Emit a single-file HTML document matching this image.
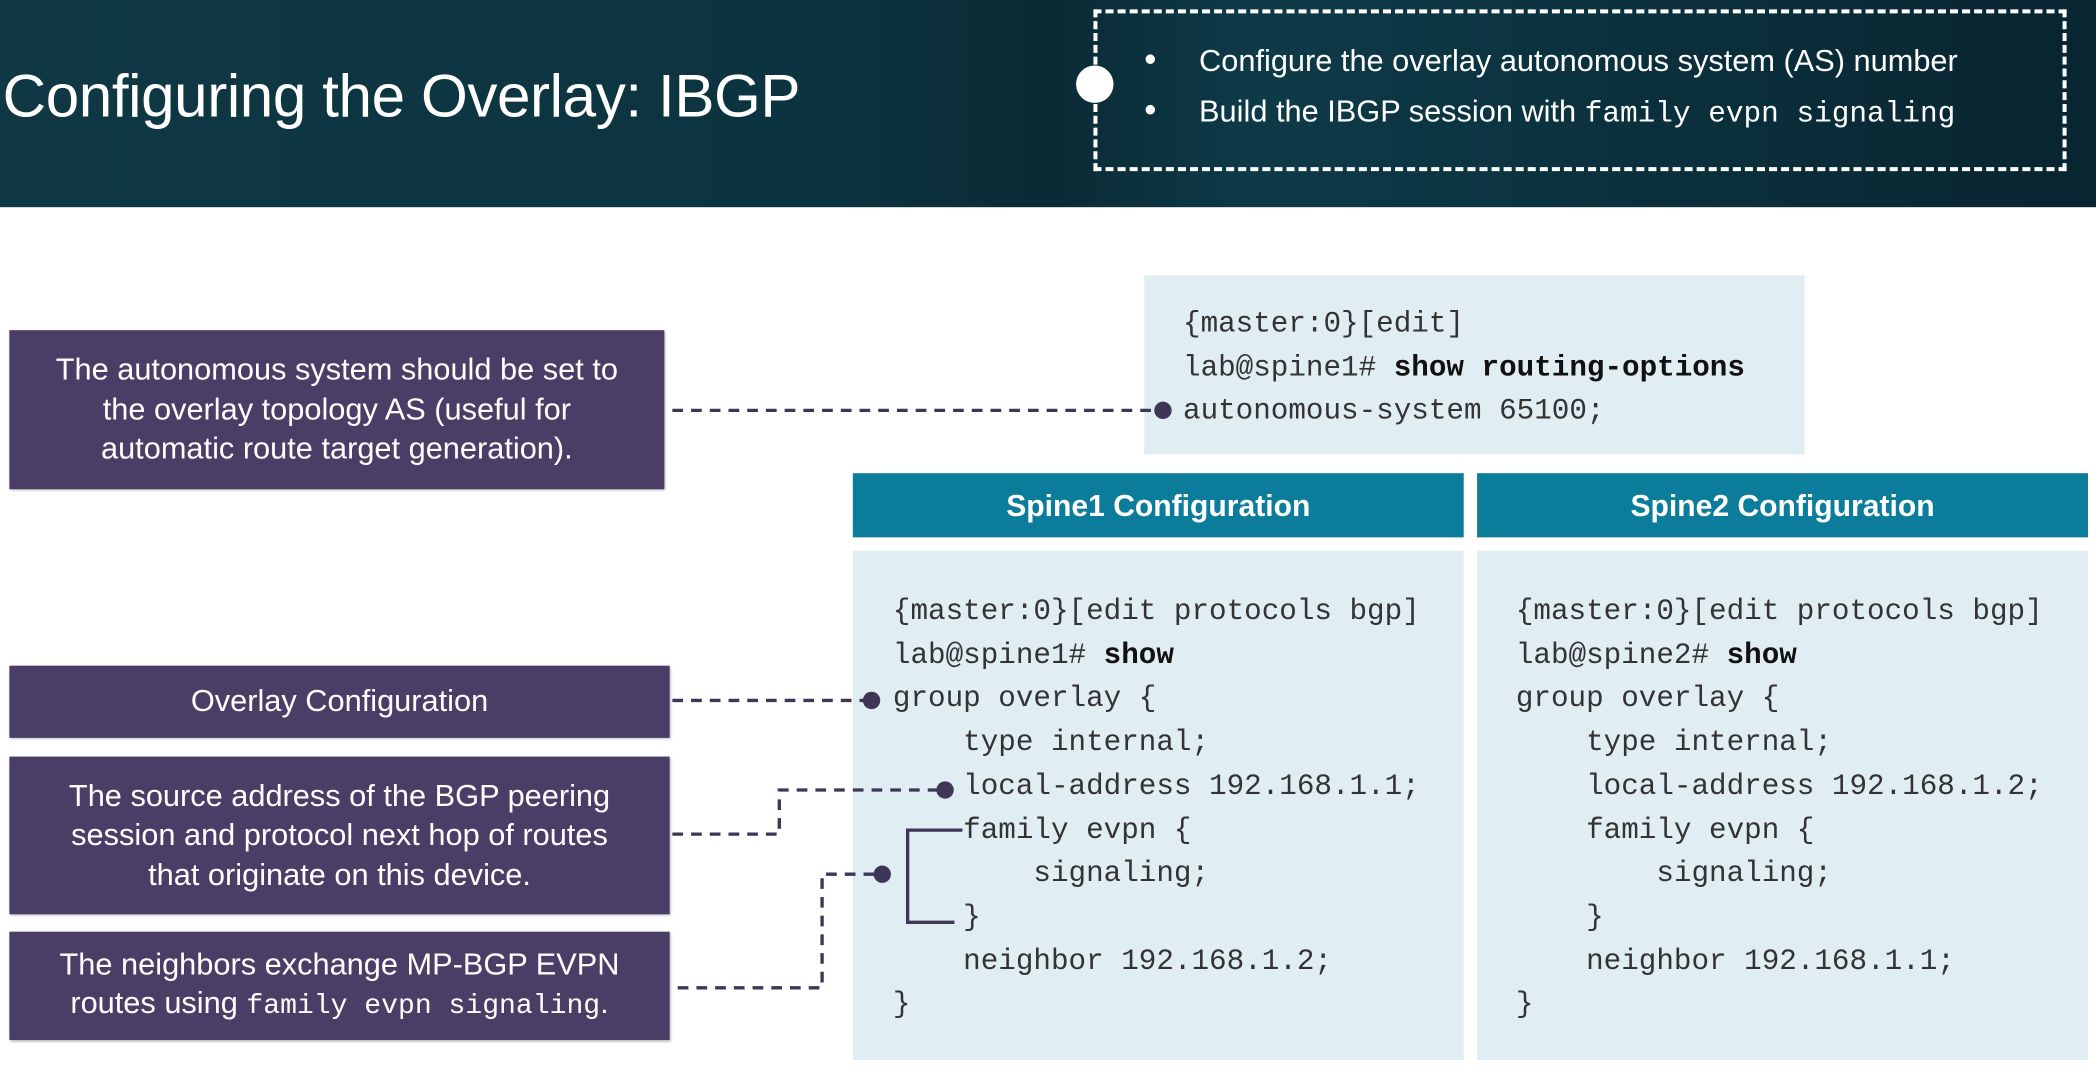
<!DOCTYPE html>
<html><head><meta charset="utf-8"><style>
html,body{margin:0;padding:0;width:2096px;height:1071px;overflow:hidden;background:#fff}
#w{position:absolute;left:0;top:0;width:1568px;height:801px;transform:scale(1.33673);transform-origin:0 0;font-family:"Liberation Sans",sans-serif}
.hdr{position:absolute;left:0;top:0;width:1568px;height:155px;background:linear-gradient(90deg,#0f3844 0%,#0c3340 40%,#0a2a35 50%,#0e3a48 60%,#082530 100%)}
.title{position:absolute;left:2px;top:46px;font-size:45px;color:#fff;letter-spacing:-0.3px}
.dash{position:absolute;left:818px;top:7px;width:722px;height:115px;border:3px dashed #fff}
.circ{position:absolute;left:805px;top:49px;width:28px;height:28px;border-radius:50%;background:#fff}
.bl{position:absolute;left:856px;color:#fff;font-size:23px;white-space:nowrap}
.bl span.b{display:inline-block;width:41px;font-size:26px}
.mono{font-family:"Liberation Mono",monospace}
.pbox{position:absolute;background:#4a3e66;color:#fff;font-size:23px;text-align:center;display:flex;align-items:center;justify-content:center;line-height:29.5px;box-shadow:1px 1px 2px rgba(0,0,0,.3)}
.code{position:absolute;background:#e0eef4;font-family:"Liberation Mono",monospace;font-size:21.9px;color:#333;white-space:pre;line-height:32.7px}
.sh{position:absolute;background:#0b7d9a;color:#fff;font-weight:bold;font-size:22.5px;text-align:center;line-height:50px;height:48px}
b{color:#111}
</style></head><body><div id="w">
<div class="hdr"></div>
<div class="title">Configuring the Overlay: IBGP</div>
<div class="dash"></div>
<div class="circ"></div>
<div class="bl" style="top:29px"><span class="b">•</span>Configure the overlay autonomous system (AS) number</div>
<div class="bl" style="top:67px"><span class="b">•</span>Build the IBGP session with <span class="mono" style="font-size:22px">family evpn signaling</span></div>

<div class="code" style="left:856px;top:206px;width:494px;height:134px;padding:0"><div style="position:absolute;left:29px;top:21px">{master:0}[edit]
lab@spine1# <b>show routing-options</b>
autonomous-system 65100;</div></div>

<div class="sh" style="left:638px;top:354px;width:457px">Spine1 Configuration</div>
<div class="sh" style="left:1105px;top:354px;width:457px">Spine2 Configuration</div>
<div class="code" style="left:638px;top:412px;width:457px;height:381px"><div style="position:absolute;left:30px;top:30px">{master:0}[edit protocols bgp]
lab@spine1# <b>show</b>
group overlay {
    type internal;
    local-address 192.168.1.1;
    family evpn {
        signaling;
    }
    neighbor 192.168.1.2;
}</div></div>
<div class="code" style="left:1105px;top:412px;width:457px;height:381px"><div style="position:absolute;left:29px;top:30px">{master:0}[edit protocols bgp]
lab@spine2# <b>show</b>
group overlay {
    type internal;
    local-address 192.168.1.2;
    family evpn {
        signaling;
    }
    neighbor 192.168.1.1;
}</div></div>

<div class="pbox" style="left:7px;top:247px;width:490px;height:119px"><div>The autonomous system should be set to<br>the overlay topology AS (useful for<br>automatic route target generation).</div></div>
<div class="pbox" style="left:7px;top:498px;width:494px;height:54px"><div>Overlay Configuration</div></div>
<div class="pbox" style="left:7px;top:566px;width:494px;height:118px"><div>The source address of the BGP peering<br>session and protocol next hop of routes<br>that originate on this device.</div></div>
<div class="pbox" style="left:7px;top:697px;width:494px;height:81px"><div>The neighbors exchange MP-BGP EVPN<br>routes using <span class="mono" style="font-size:21px">family evpn signaling</span>.</div></div>

<svg style="position:absolute;left:0;top:0" width="1568" height="801">
<g fill="none" stroke="#3e3557" stroke-width="2.5" stroke-dasharray="8,6">
<path d="M503 307H866"/>
<path d="M503 524H648"/>
<path d="M503 624H583V591H703"/>
<path d="M507 739H615V654H656"/>
</g>
<path d="M720 621H679V690H714" fill="none" stroke="#3e3557" stroke-width="2.5"/>
<g fill="#3e3557"><circle cx="870" cy="307" r="6.5"/><circle cx="652" cy="524" r="6.5"/><circle cx="707" cy="591" r="6.5"/><circle cx="660" cy="654" r="6.5"/></g>
</svg>
</div></body></html>
